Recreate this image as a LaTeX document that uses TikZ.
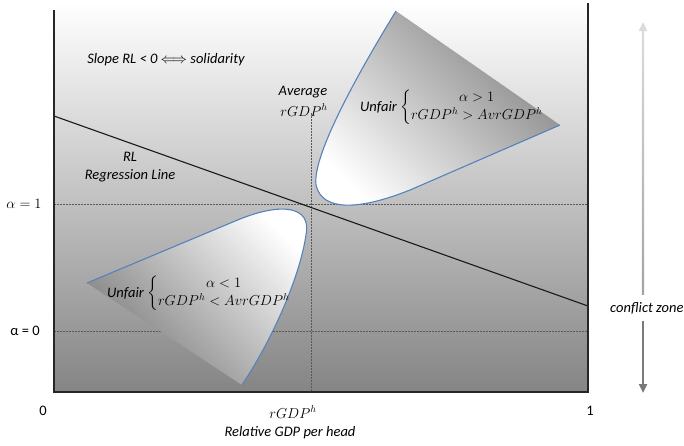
\documentclass[tikz,border=0pt]{standalone}
\usepackage{amsmath}
\usepackage{fontspec}
\setmainfont{Carlito}
\usetikzlibrary{arrows.meta}
\definecolor{curveblue}{RGB}{86,130,188}
\begin{document}
\begin{tikzpicture}[x=1pt,y=-1pt,
  txt/.style={font=\fontsize{14.5}{16}\selectfont\itshape, inner sep=0pt},
  upr/.style={font=\fontsize{14.5}{16}\selectfont, inner sep=0pt},
  mth/.style={font=\fontsize{14.5}{16}\selectfont, inner sep=0pt},
  gridline/.style={black!65, line width=0.6pt, dash pattern=on 1.5pt off 1.5pt},
  frame/.style={black!85, line width=1.1pt},
  curve/.style={curveblue, line width=1.1pt},
  regline/.style={black!90, line width=1.1pt}]
\useasboundingbox (0,0) rectangle (684,445);
% coordinates
\coordinate (TL) at (54,10);
\coordinate (BL) at (54,392);
\coordinate (BR) at (588,392);
\coordinate (TR) at (588,3);
\coordinate (a1L) at (54,204);
\coordinate (a1R) at (588,204);
\coordinate (a0L) at (54,331);
\coordinate (a0R) at (588,331);
\coordinate (avT) at (311,113);
\coordinate (avB) at (311,392);
\coordinate (rlL) at (54,116);
\coordinate (rlR) at (588,306);
% background
\shade[top color=white, bottom color=black!48] (54,3) rectangle (588,392);
% grid lines
\draw[gridline] (a1L) -- (a1R);
\draw[gridline] (a0L) -- (a0R);
\draw[gridline] (avT) -- (avB);
% upper shape
\shade[top color=black!48, bottom color=white, shading angle=-45]
  (396,11) -- (560,125) -- (410,190) .. controls (360,210) and (322,212) .. (316,185)
  .. controls (312,155) and (360,70) .. (396,11) -- cycle;
\draw[curve] (560,125) -- (410,190) .. controls (360,210) and (322,212) .. (316,185)
  .. controls (312,155) and (360,70) .. (396,11);
% lower shape
\shade[top color=white, bottom color=black!52, shading angle=-45]
  (87,283) -- (240,219) .. controls (280,203) and (312,205) .. (306,235)
  .. controls (300,275) and (275,335) .. (242,385) -- cycle;
\draw[curve] (87,283) -- (240,219) .. controls (280,203) and (312,205) .. (306,235)
  .. controls (300,275) and (275,335) .. (242,385);
% regression line
\draw[regline] (rlL) -- (rlR);
% frame
\draw[frame] (TL) -- (BL) -- (BR) -- (TR);
% texts
\node[txt] (slope) at (166,60) {Slope RL < 0 $\Longleftrightarrow$ solidarity};
\node[txt] (rl) at (130,157) {RL};
\node[txt] (regl) at (130,176) {Regression Line};
\node[mth] (avg) at (303,92) {$\mathit{Average}$};
\node[mth] (avgr) at (304,110) {$rGDP^h$};
\node[mth, anchor=west] (ubr) at (400,107) {\renewcommand{\arraystretch}{1.15}$\left\{\begin{array}{@{}c@{}}\alpha>1\\ rGDP^h>AvrGDP^h\end{array}\right.$};
\node[txt, anchor=east] (uunf) at ([xshift=-3pt]ubr.west) {Unfair};
\node[mth, anchor=west] (lbr) at (147,293) {\renewcommand{\arraystretch}{1.15}$\left\{\begin{array}{@{}c@{}}\alpha<1\\ rGDP^h<AvrGDP^h\end{array}\right.$};
\node[txt, anchor=east] (lunf) at ([xshift=-3pt]lbr.west) {Unfair};
\node[mth] (al1) at (24,204) {$\alpha=1$};
\node[upr] (al0) at (25,331) {α = 0};
\node[upr] (x0) at (43,411) {0};
\node[upr] (x1) at (590,411) {1};
\node[mth] (xr) at (293,412) {$rGDP^h$};
\node[txt] (xl) at (290,433) {Relative GDP per head};
\node[txt, anchor=west] (cz) at (610,308) {conflict zone};
% conflict arrow
\coordinate (ztop) at (643,22);
\coordinate (zu) at (643,294);
\coordinate (zl) at (643,321);
\coordinate (zbot) at (643,393);
\draw[-{Triangle[length=9pt,width=8pt]}, line width=2.2pt, black!14] (zu) -- (ztop);
\shade[top color=black!14, bottom color=black!36] (641.9,31) rectangle (644.1,294);
\draw[-{Triangle[length=9pt,width=8pt]}, line width=2.2pt, black!52] (zl) -- (zbot);
\end{tikzpicture}
\end{document}
